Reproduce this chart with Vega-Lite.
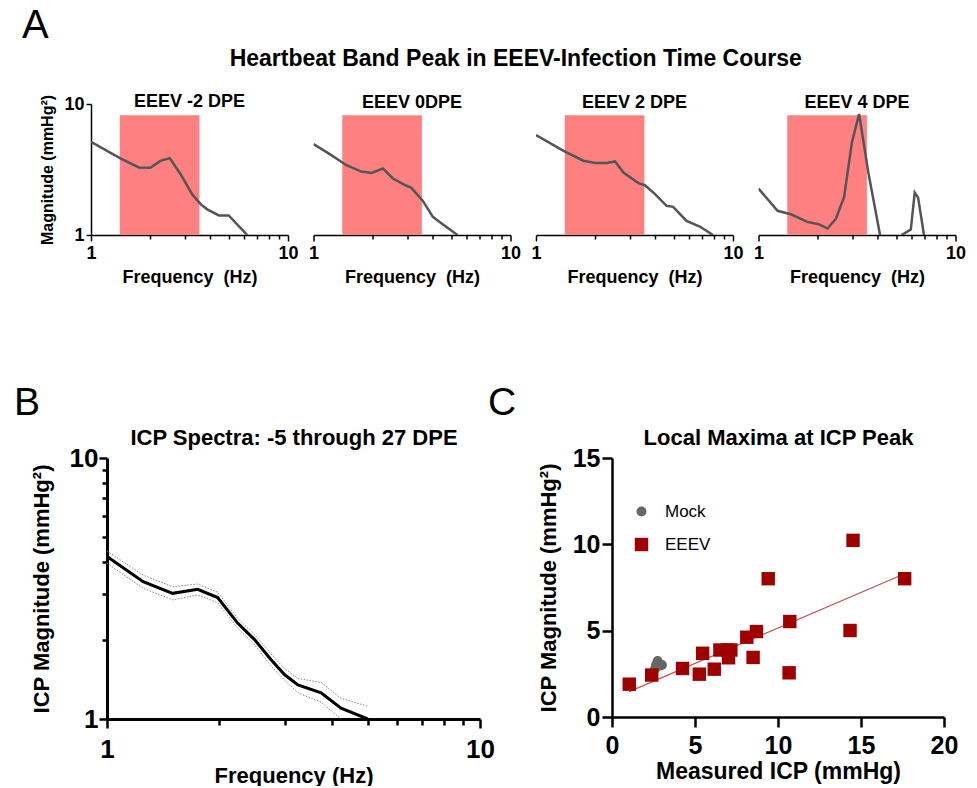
{
  "$schema": "https://vega.github.io/schema/vega-lite/v6.json",
  "padding": {"left": 14, "top": 6, "right": 0, "bottom": 0},
  "background": "white",
  "title": {"text": "Heartbeat Band Peak in EEEV-Infection Time Course", "fontSize": 23, "anchor": "middle", "frame": "bounds", "dx": 26, "offset": -65},
  "datasets": {
    "band": [{"f0": 1.4, "f1": 3.55, "m0": 1, "m1": 8.2}],
    "a1": [
      {"f": 1, "m": 5.15}, {"f": 1.41, "m": 3.84}, {"f": 1.75, "m": 3.28}, {"f": 2.0, "m": 3.26},
      {"f": 2.25, "m": 3.68}, {"f": 2.51, "m": 3.86}, {"f": 2.85, "m": 2.91}, {"f": 3.26, "m": 2.05},
      {"f": 3.6, "m": 1.72}, {"f": 3.89, "m": 1.57}, {"f": 4.46, "m": 1.41}, {"f": 5.0, "m": 1.41},
      {"f": 6.21, "m": 1.0}
    ],
    "a2": [
      {"f": 1, "m": 4.94}, {"f": 1.21, "m": 4.14}, {"f": 1.47, "m": 3.41}, {"f": 1.75, "m": 3.05},
      {"f": 1.97, "m": 2.98}, {"f": 2.25, "m": 3.22}, {"f": 2.53, "m": 2.7}, {"f": 2.9, "m": 2.41},
      {"f": 3.13, "m": 2.3}, {"f": 3.59, "m": 1.82}, {"f": 4.03, "m": 1.38}, {"f": 4.35, "m": 1.26},
      {"f": 5.38, "m": 1.0}
    ],
    "a3": [
      {"f": 1, "m": 5.79}, {"f": 1.38, "m": 4.39}, {"f": 1.74, "m": 3.69}, {"f": 2.0, "m": 3.54},
      {"f": 2.29, "m": 3.54}, {"f": 2.52, "m": 3.64}, {"f": 2.78, "m": 3.0}, {"f": 3.31, "m": 2.49},
      {"f": 3.57, "m": 2.4}, {"f": 4.02, "m": 2.05}, {"f": 4.6, "m": 1.67}, {"f": 4.97, "m": 1.64},
      {"f": 5.81, "m": 1.28}, {"f": 6.78, "m": 1.16}, {"f": 7.92, "m": 1.0}
    ],
    "a4": [
      {"f": 1, "m": 2.26, "seg": "a"}, {"f": 1.25, "m": 1.53, "seg": "a"}, {"f": 1.46, "m": 1.44, "seg": "a"},
      {"f": 1.77, "m": 1.26, "seg": "a"}, {"f": 2.02, "m": 1.21, "seg": "a"}, {"f": 2.24, "m": 1.12, "seg": "a"},
      {"f": 2.47, "m": 1.33, "seg": "a"}, {"f": 2.72, "m": 1.95, "seg": "a"}, {"f": 2.98, "m": 5.09, "seg": "a"},
      {"f": 3.24, "m": 8.39, "seg": "a"}, {"f": 3.61, "m": 3.0, "seg": "a"}, {"f": 4.14, "m": 1.0, "seg": "a"},
      {"f": 5.32, "m": 1.0, "seg": "b"}, {"f": 5.93, "m": 1.1, "seg": "b"}, {"f": 6.21, "m": 2.11, "seg": "b"},
      {"f": 6.46, "m": 1.93, "seg": "b"}, {"f": 6.92, "m": 1.0, "seg": "b"}
    ],
    "spectra": [
      {"f": 1, "mean": 4.19, "hi": 4.4, "lo": 3.95},
      {"f": 1.25, "mean": 3.36, "hi": 3.56, "lo": 3.17},
      {"f": 1.5, "mean": 3.03, "hi": 3.21, "lo": 2.86},
      {"f": 1.75, "mean": 3.14, "hi": 3.29, "lo": 2.99},
      {"f": 1.98, "mean": 2.92, "hi": 3.06, "lo": 2.79},
      {"f": 2.24, "mean": 2.33, "hi": 2.43, "lo": 2.23},
      {"f": 2.49, "mean": 2.01, "hi": 2.1, "lo": 1.92},
      {"f": 2.75, "mean": 1.69, "hi": 1.78, "lo": 1.6},
      {"f": 2.99, "mean": 1.48, "hi": 1.56, "lo": 1.41},
      {"f": 3.25, "mean": 1.35, "hi": 1.43, "lo": 1.26},
      {"f": 3.75, "mean": 1.26, "hi": 1.38, "lo": 1.16},
      {"f": 4.24, "mean": 1.1, "hi": 1.2, "lo": 1.0},
      {"f": 5.0, "mean": 1.0, "hi": 1.12, "lo": null}
    ],
    "icp": [
      {"x": 2.75, "y": 3.24, "group": "Mock"},
      {"x": 2.85, "y": 2.97, "group": "Mock"},
      {"x": 2.59, "y": 2.78, "group": "Mock"},
      {"x": 3.01, "y": 3.01, "group": "Mock"},
      {"x": 2.65, "y": 3.01, "group": "Mock"},
      {"x": 1.04, "y": 1.9, "group": "EEEV"},
      {"x": 2.39, "y": 2.43, "group": "EEEV"},
      {"x": 4.25, "y": 2.81, "group": "EEEV"},
      {"x": 5.26, "y": 2.48, "group": "EEEV"},
      {"x": 5.46, "y": 3.69, "group": "EEEV"},
      {"x": 6.16, "y": 2.77, "group": "EEEV"},
      {"x": 6.5, "y": 3.88, "group": "EEEV"},
      {"x": 6.96, "y": 3.88, "group": "EEEV"},
      {"x": 7.16, "y": 3.88, "group": "EEEV"},
      {"x": 7.02, "y": 3.43, "group": "EEEV"},
      {"x": 8.12, "y": 4.62, "group": "EEEV"},
      {"x": 8.7, "y": 4.95, "group": "EEEV"},
      {"x": 8.5, "y": 3.45, "group": "EEEV"},
      {"x": 9.41, "y": 8.01, "group": "EEEV"},
      {"x": 10.71, "y": 5.53, "group": "EEEV"},
      {"x": 10.67, "y": 2.56, "group": "EEEV"},
      {"x": 14.34, "y": 5.01, "group": "EEEV"},
      {"x": 14.52, "y": 10.23, "group": "EEEV"},
      {"x": 17.63, "y": 8.01, "group": "EEEV"}
    ]
  },
  "columns": 1,
  "align": "none",
  "spacing": 98,
  "resolve": {"scale": {"color": "independent", "shape": "independent", "size": "independent"}},
  "concat": [
    {
      "title": {"text": "A", "anchor": "start", "frame": "group", "dx": -69, "fontSize": 40, "fontWeight": "normal", "offset": 47},
      "bounds": "flush",
      "spacing": 25.5,
      "hconcat": [
        {
          "width": 197, "height": 131,
          "title": {"text": "EEEV -2 DPE", "fontSize": 18, "frame": "group", "offset": -17},
          "layer": [
            {"data": {"name": "band"}, "mark": {"type": "rect", "color": "#ff8080"},
             "encoding": {
               "x": {"field": "f0", "type": "quantitative", "scale": {"type": "log", "domain": [1, 10], "nice": false},
                     "axis": {"title": "Frequency\u00a0\u00a0(Hz)", "values": [1,2,3,4,5,6,7,8,9,10], "labelExpr": "datum.value == 1 || datum.value == 10 ? format(datum.value, 'd') : ''", "labelFontSize": 18, "titleFontSize": 18, "tickSize": {"condition": {"test": "datum.value == 1 || datum.value == 10", "value": 6}, "value": 4}, "labelPadding": 3, "titlePadding": 6, "domainWidth": 1.5, "tickWidth": 1.5}},
               "x2": {"field": "f1"},
               "y": {"field": "m0", "type": "quantitative", "scale": {"type": "log", "domain": [1, 10], "nice": false},
                     "axis": {"title": "Magnitude (mmHg\u00b2)", "values": [1, 10], "labelExpr": "format(datum.value, 'd')", "labelFontSize": 18, "titleFontSize": 16, "tickSize": 5, "labelPadding": 2, "titlePadding": 8, "domainWidth": 1.5, "tickWidth": 1.5}},
               "y2": {"field": "m1"}
             }},
            {"data": {"name": "a1"}, "mark": {"type": "line", "color": "#555555", "strokeWidth": 2.5, "clip": true},
             "encoding": {
               "x": {"field": "f", "type": "quantitative", "scale": {"type": "log", "domain": [1, 10], "nice": false}},
               "y": {"field": "m", "type": "quantitative", "scale": {"type": "log", "domain": [1, 10], "nice": false}}
             }}
          ]
        },
        {
          "width": 197, "height": 131,
          "title": {"text": "EEEV 0DPE", "fontSize": 18, "frame": "group", "offset": -8},
          "layer": [
            {"data": {"name": "band"}, "mark": {"type": "rect", "color": "#ff8080"},
             "encoding": {
               "x": {"field": "f0", "type": "quantitative", "scale": {"type": "log", "domain": [1, 10], "nice": false},
                     "axis": {"title": "Frequency\u00a0\u00a0(Hz)", "values": [1,2,3,4,5,6,7,8,9,10], "labelExpr": "datum.value == 1 || datum.value == 10 ? format(datum.value, 'd') : ''", "labelFontSize": 18, "titleFontSize": 18, "tickSize": {"condition": {"test": "datum.value == 1 || datum.value == 10", "value": 6}, "value": 4}, "labelPadding": 3, "titlePadding": 6, "domainWidth": 1.5, "tickWidth": 1.5}},
               "x2": {"field": "f1"},
               "y": {"field": "m0", "type": "quantitative", "scale": {"type": "log", "domain": [1, 10], "nice": false}, "axis": null},
               "y2": {"field": "m1"}
             }},
            {"data": {"name": "a2"}, "mark": {"type": "line", "color": "#555555", "strokeWidth": 2.5, "clip": true},
             "encoding": {
               "x": {"field": "f", "type": "quantitative", "scale": {"type": "log", "domain": [1, 10], "nice": false}},
               "y": {"field": "m", "type": "quantitative", "scale": {"type": "log", "domain": [1, 10], "nice": false}, "axis": null}
             }}
          ]
        },
        {
          "width": 197, "height": 131,
          "title": {"text": "EEEV 2 DPE", "fontSize": 18, "frame": "group", "offset": -8},
          "layer": [
            {"data": {"name": "band"}, "mark": {"type": "rect", "color": "#ff8080"},
             "encoding": {
               "x": {"field": "f0", "type": "quantitative", "scale": {"type": "log", "domain": [1, 10], "nice": false},
                     "axis": {"title": "Frequency\u00a0\u00a0(Hz)", "values": [1,2,3,4,5,6,7,8,9,10], "labelExpr": "datum.value == 1 || datum.value == 10 ? format(datum.value, 'd') : ''", "labelFontSize": 18, "titleFontSize": 18, "tickSize": {"condition": {"test": "datum.value == 1 || datum.value == 10", "value": 6}, "value": 4}, "labelPadding": 3, "titlePadding": 6, "domainWidth": 1.5, "tickWidth": 1.5}},
               "x2": {"field": "f1"},
               "y": {"field": "m0", "type": "quantitative", "scale": {"type": "log", "domain": [1, 10], "nice": false}, "axis": null},
               "y2": {"field": "m1"}
             }},
            {"data": {"name": "a3"}, "mark": {"type": "line", "color": "#555555", "strokeWidth": 2.5, "clip": true},
             "encoding": {
               "x": {"field": "f", "type": "quantitative", "scale": {"type": "log", "domain": [1, 10], "nice": false}},
               "y": {"field": "m", "type": "quantitative", "scale": {"type": "log", "domain": [1, 10], "nice": false}, "axis": null}
             }}
          ]
        },
        {
          "width": 197, "height": 131,
          "title": {"text": "EEEV 4 DPE", "fontSize": 18, "frame": "group", "offset": -8},
          "layer": [
            {"data": {"name": "band"}, "mark": {"type": "rect", "color": "#ff8080"},
             "encoding": {
               "x": {"field": "f0", "type": "quantitative", "scale": {"type": "log", "domain": [1, 10], "nice": false},
                     "axis": {"title": "Frequency\u00a0\u00a0(Hz)", "values": [1,2,3,4,5,6,7,8,9,10], "labelExpr": "datum.value == 1 || datum.value == 10 ? format(datum.value, 'd') : ''", "labelFontSize": 18, "titleFontSize": 18, "tickSize": {"condition": {"test": "datum.value == 1 || datum.value == 10", "value": 6}, "value": 4}, "labelPadding": 3, "titlePadding": 6, "domainWidth": 1.5, "tickWidth": 1.5}},
               "x2": {"field": "f1"},
               "y": {"field": "m0", "type": "quantitative", "scale": {"type": "log", "domain": [1, 10], "nice": false}, "axis": null},
               "y2": {"field": "m1"}
             }},
            {"data": {"name": "a4"}, "mark": {"type": "line", "color": "#555555", "strokeWidth": 2.5, "clip": true},
             "encoding": {
               "x": {"field": "f", "type": "quantitative", "scale": {"type": "log", "domain": [1, 10], "nice": false}},
               "y": {"field": "m", "type": "quantitative", "scale": {"type": "log", "domain": [1, 10], "nice": false}, "axis": null},
               "detail": {"field": "seg", "type": "nominal"}
             }}
          ]
        }
      ]
    },
    {
      "bounds": "flush",
      "spacing": 132,
      "resolve": {"scale": {"color": "independent", "shape": "independent", "size": "independent"}},
      "hconcat": [
        {
          "width": 389, "height": 261,
          "title": {"text": "B", "anchor": "start", "frame": "group", "dx": -77, "fontSize": 39, "fontWeight": "normal", "offset": 3},
          "data": {"name": "spectra"},
          "resolve": {"axis": {"x": "independent"}},
          "layer": [
            {"mark": {"type": "rule", "opacity": 0},
             "encoding": {
               "x": {"field": "f", "type": "quantitative", "scale": {"type": "log", "domain": [1, 10], "nice": false, "range": [16, 389]},
                     "axis": {"orient": "top", "title": "ICP Spectra: -5 through 27 DPE", "domain": false, "ticks": false, "labels": false, "titleFontSize": 22, "titlePadding": 14, "titleBaseline": "alphabetic"}}
             }},
            {
              "layer": [
                {"mark": {"type": "line", "color": "#000000", "strokeWidth": 3, "clip": true},
                 "encoding": {
                   "x": {"field": "f", "type": "quantitative", "scale": {"type": "log", "domain": [1, 10], "nice": false, "range": [16, 389]},
                         "axis": {"title": "Frequency (Hz)", "values": [1,2,3,4,5,6,7,8,9,10], "labelExpr": "datum.value == 1 || datum.value == 10 ? format(datum.value, 'd') : ''", "labelFontSize": 26, "titleFontSize": 22, "tickSize": {"condition": {"test": "datum.value == 1 || datum.value == 10", "value": 9}, "value": 6}, "labelPadding": 8, "titlePadding": 3, "domainWidth": 3, "tickWidth": 2.5}},
                   "y": {"field": "mean", "type": "quantitative", "scale": {"type": "log", "domain": [1, 10], "nice": false},
                         "axis": {"title": "ICP Magnitude (mmHg\u00b2)", "offset": -16, "values": [1,2,3,4,5,6,7,8,9,10], "labelExpr": "datum.value == 1 || datum.value == 10 ? format(datum.value, 'd') : ''", "labelFontSize": 26, "titleFontSize": 22, "tickSize": {"condition": {"test": "datum.value == 1 || datum.value == 10", "value": 8}, "value": 5}, "labelPadding": 1, "titlePadding": 16, "domainWidth": 3, "tickWidth": 2.5}}
                 }},
                {"mark": {"type": "line", "color": "#888888", "strokeWidth": 1, "strokeDash": [1.5, 1.5], "clip": true},
                 "encoding": {
                   "x": {"field": "f", "type": "quantitative"},
                   "y": {"field": "hi", "type": "quantitative"}
                 }},
                {"mark": {"type": "line", "color": "#888888", "strokeWidth": 1, "strokeDash": [1.5, 1.5], "clip": true},
                 "encoding": {
                   "x": {"field": "f", "type": "quantitative"},
                   "y": {"field": "lo", "type": "quantitative"}
                 }}
              ]
            }
          ]
        },
        {
          "width": 332, "height": 259,
          "title": {"text": "C", "anchor": "start", "frame": "group", "dx": -124, "fontSize": 39, "fontWeight": "normal", "offset": 3},
          "data": {"name": "icp"},
          "resolve": {"axis": {"x": "independent"}},
          "layer": [
            {"mark": {"type": "rule", "opacity": 0},
             "encoding": {
               "x": {"field": "x", "type": "quantitative", "scale": {"domain": [0, 20], "nice": false},
                     "axis": {"orient": "top", "title": "Local Maxima at ICP Peak", "domain": false, "ticks": false, "labels": false, "titleFontSize": 22, "titlePadding": 14, "titleBaseline": "alphabetic"}}
             }},
            {
              "layer": [
                {"transform": [{"filter": "datum.group == 'EEEV'"}, {"regression": "y", "on": "x"}],
                 "mark": {"type": "line", "color": "#c0504d", "strokeWidth": 1.2},
                 "encoding": {
                   "x": {"field": "x", "type": "quantitative", "scale": {"domain": [0, 20], "nice": false},
                         "axis": {"title": "Measured ICP (mmHg)", "values": [0, 5, 10, 15, 20], "labelFontSize": 25, "titleFontSize": 23, "tickSize": 10, "labelPadding": 6, "titlePadding": 2, "domainWidth": 2.5, "tickWidth": 2.5}},
                   "y": {"field": "y", "type": "quantitative", "scale": {"domain": [0, 15], "nice": false},
                         "axis": {"title": "ICP Magnitude (mmHg\u00b2)", "values": [0, 5, 10, 15], "labelFontSize": 25, "titleFontSize": 22, "tickSize": 10, "labelPadding": 2, "titlePadding": 12, "domainWidth": 2.5, "tickWidth": 2.5}}
                 }},
                {"mark": {"type": "point", "filled": true, "opacity": 1},
                 "encoding": {
                   "x": {"field": "x", "type": "quantitative"},
                   "y": {"field": "y", "type": "quantitative"},
                   "color": {"field": "group", "type": "nominal", "scale": {"domain": ["Mock", "EEEV"], "range": ["#666666", "#9e0000"]},
                             "legend": {"orient": "none", "legendX": 21, "legendY": 45, "title": null, "labelFontSize": 17, "labelFont": "Liberation Sans", "labelColor": "#000", "symbolSize": 150, "rowPadding": 15, "labelOffset": 15, "padding": 0}},
                   "shape": {"field": "group", "type": "nominal", "scale": {"domain": ["Mock", "EEEV"], "range": ["circle", "square"]},
                             "legend": {"orient": "none", "legendX": 21, "legendY": 45, "title": null, "labelFontSize": 17, "labelFont": "Liberation Sans", "labelColor": "#000", "symbolSize": 150, "rowPadding": 15, "labelOffset": 15, "padding": 0}},
                   "size": {"field": "group", "type": "nominal", "scale": {"domain": ["Mock", "EEEV"], "range": [100, 180]}, "legend": null}
                 }}
              ]
            }
          ]
        }
      ]
    }
  ],
  "config": {
    "font": "Liberation Sans",
    "view": {"stroke": null},
    "axis": {"grid": false, "domainColor": "#000000", "tickColor": "#000000", "labelColor": "#000000", "titleColor": "#000000", "labelFont": "Liberation Sans", "titleFont": "Liberation Sans", "labelFontWeight": "bold", "titleFontWeight": "bold", "labelFlush": false, "labelOverlap": false, "labelBound": false},
    "title": {"font": "Liberation Sans", "fontWeight": "bold", "color": "#000000", "baseline": "alphabetic"}
  }
}
